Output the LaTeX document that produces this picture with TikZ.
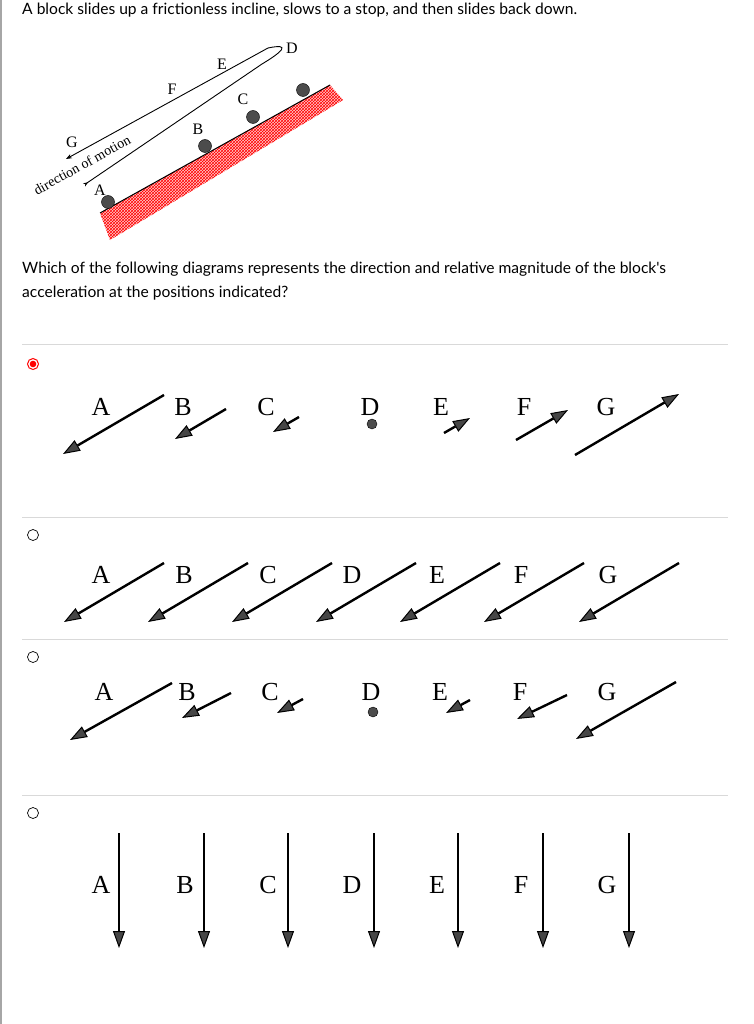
\documentclass[tikz,border=0pt]{standalone}
\usepackage{fontspec}
\setmainfont{Liberation Serif}
\newfontfamily\lato{Lato}
\usetikzlibrary{arrows.meta,patterns}
\begin{document}
\begin{tikzpicture}[x=1pt,y=-1pt,
  qtext/.style={font=\lato\fontsize{15.6}{18}\selectfont,anchor=west,inner sep=0},
  lbl/.style={font=\fontsize{26}{26}\selectfont,inner sep=0},
  acc/.style={line width=2.4pt,-{Triangle[length=17pt,width=12pt,fill=gray!55!black,line width=1pt]}},
  sep/.style={draw=gray!30,line width=0.8pt},
  radio/.style={circle,draw=black,line width=0.7pt,minimum size=11pt,inner sep=0}]
\useasboundingbox (0,0) rectangle (753,1024);
\fill[white] (0,0) rectangle (753,1024);
\draw[gray!70,line width=1.5pt] (0.75,0) -- (0.75,1024);
\node[qtext] (t1) at (22,10) {A block slides up a frictionless incline, slows to a stop, and then slides back down.};
% incline
\fill[red!20] (100,213) -- (330,85) -- (343,100) -- (110,240) -- cycle;
\fill[pattern=crosshatch, pattern color=red] (100,213) -- (330,85) -- (343,100) -- (110,240) -- cycle;
\draw[line width=1pt] (100,213) -- (330,85);
\foreach \n/\x/\y in {bA/108/202,bB/205/146,bC/253/117,bD/303/90}
  \node[circle,fill=gray!60!black,draw=black,minimum size=13pt,inner sep=0] (\n) at (\x,\y) {};
\begin{scope}[every node/.style={font=\fontsize{16}{16}\selectfont,inner sep=0}]
\node (lA) at (100,190) {A}; \node (lB) at (198,129) {B}; \node (lC) at (243,99) {C};
\node (lD) at (292,48) {D}; \node (lE) at (222,64) {E}; \node (lF) at (172,89) {F};
\node (lG) at (72,142) {G};
\node[rotate=29,font=\fontsize{14}{14}\selectfont] (dm) at (82,165) {direction of motion};
\end{scope}
\coordinate (s1) at (84,185); \coordinate (s2) at (66,159);
\draw[line width=0.9pt,{Stealth[length=5pt,reversed]}-{Stealth[length=6pt]}] (s1) -- (262,64) .. controls (282,52) and (292,43) .. (268,48) -- (s2);
\node[qtext] (q1) at (22,269) {Which of the following diagrams represents the direction and relative magnitude of the block's};
\node[qtext] (q2) at (22,293) {acceleration at the positions indicated?};
\foreach \y in {344,517,639,795} \draw[sep] (22,\y) -- (728,\y);
\node[radio,draw=red,line width=1pt] (r1) at (33,364) {};
\fill[red] (r1) circle (3.3pt);
\node[radio] (r2) at (33,535) {};
\node[radio] (r3) at (33,657) {};
\node[radio] (r4) at (33,813) {};
% option 1
\foreach \l/\lx/\ax/\ay/\bx/\by in {A/101/164/395/63/454,B/183/226/409/175/439,C/266/299/417/273/432,E/441/444/433/470/418,F/524/516/440/568/410,G/606/575/455/679/394}{
  \node[lbl] (o1\l) at (\lx,407) {\l};
  \coordinate (o1s\l) at (\ax,\ay); \coordinate (o1e\l) at (\bx,\by);
  \draw[acc] (o1s\l) -- (o1e\l);}
\node[lbl] (o1D) at (370,407) {D};
\node[circle,fill=gray!60!black,draw=black,minimum size=10pt,inner sep=0] (o1dot) at (372,424) {};
% option 2
\foreach \l/\lx/\ax in {A/101/164,B/184/248,C/268/332,D/352/416,E/437/500,F/521/584,G/608/679}{
  \node[lbl] (o2\l) at (\lx,575) {\l};
  \coordinate (o2s\l) at (\ax,563); \coordinate (o2e\l) at (\ax-100,622);
  \draw[acc] (o2s\l) -- (o2e\l);}
% option 3
\foreach \l/\lx/\ax/\ay/\bx/\by in {A/104/172/683/70/740,B/187/231/693/182/718,C/270/303/699/277/713,E/440/470/700/446/713,F/520/567/695/517/719,G/607/676/682/576/739}{
  \node[lbl] (o3\l) at (\lx,692) {\l};
  \coordinate (o3s\l) at (\ax,\ay); \coordinate (o3e\l) at (\bx,\by);
  \draw[acc] (o3s\l) -- (o3e\l);}
\node[lbl] (o3D) at (371,692) {D};
\node[circle,fill=gray!60!black,draw=black,minimum size=10pt,inner sep=0] (o3dot) at (373,712) {};
% option 4
\foreach \l/\lx/\ax in {A/101/119,B/185/204,C/268/288,D/352/374,E/437/458,F/521/543,G/607/629}{
  \node[lbl] (o4\l) at (\lx,885) {\l};
  \coordinate (o4s\l) at (\ax,833); \coordinate (o4e\l) at (\ax,948);
  \draw[acc] (o4s\l) -- (o4e\l);}
\end{tikzpicture}
\end{document}
